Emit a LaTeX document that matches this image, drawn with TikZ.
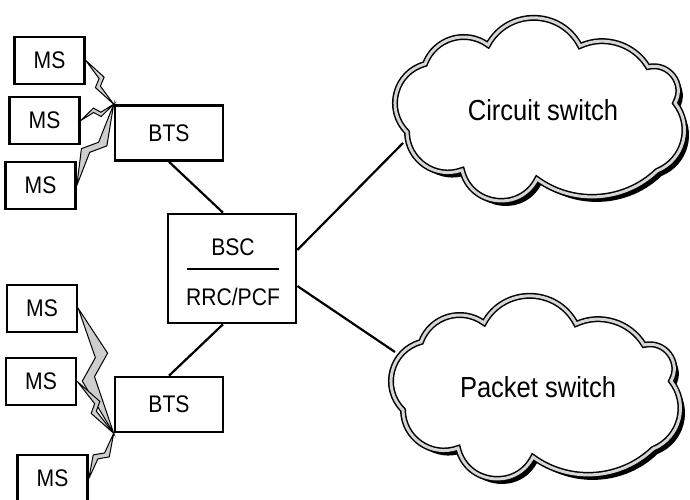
\documentclass[tikz,border=0pt]{standalone}
\usepackage{fontspec}
\setmainfont{Liberation Sans}[FakeStretch=0.88]
\usetikzlibrary{calc}
\definecolor{boltgray}{RGB}{206,206,206}
\definecolor{rimgray}{RGB}{214,214,214}

% radio link: lightning polygon from #1 (tail) to #2 (tip)
% #3 position of the jag (fraction of the axis), #4 width of the jag stroke along the axis,
% #5 slant of the jag stroke, #6 reach of the two barbs, #7 depth of the two notches
% unit vectors: za forward, zb backward, zn left, zs right of the axis
\newcommand\zap[7]{%
  \coordinate (za) at ($(#1)!1pt!(#2)$);
  \coordinate (zb) at ($(#1)!1pt!180:(#2)$);
  \coordinate (zn) at ($(#1)!1pt!90:(#2)$);
  \coordinate (zs) at ($(#1)!1pt!270:(#2)$);
  \pgfmathsetmacro\zBarb{#5*#6-#4/2}%
  \pgfmathsetmacro\zNotch{#4/2+#5*#7}%
  \filldraw[bolt] (#1)
   -- ($(#1)!#3!(#2) + {\zBarb}*(zb) - {\zBarb}*(#1) + {#6}*(zn) - {#6}*(#1)$)
   -- ($(#1)!#3!(#2) + {\zNotch}*(za) - {\zNotch}*(#1) + {#7}*(zs) - {#7}*(#1)$)
   -- (#2)
   -- ($(#1)!#3!(#2) + {\zBarb}*(za) - {\zBarb}*(#1) + {#6}*(zs) - {#6}*(#1)$)
   -- ($(#1)!#3!(#2) + {\zNotch}*(zb) - {\zNotch}*(#1) + {#7}*(zn) - {#7}*(#1)$)
   -- cycle;}

% puffy outline of a network cloud
\newcommand\cloudoutline{(425,-64)
  to[bend left=53,looseness=1.07] (488,-45)
  to[bend left=62,looseness=1.16] (580,-46)
  to[bend left=42,looseness=0.97] (648,-67)
  to[bend left=67,looseness=1.22] (675,-103)
  to[bend left=53,looseness=1.07] (657,-171)
  to[bend left=40,looseness=0.96] (537,-179)
  to[bend left=70,looseness=1.27] (462,-170)
  to[bend left=55,looseness=1.08] (407,-132)
  to[bend left=60,looseness=1.14] (425,-64) -- cycle}

\begin{document}
\begin{tikzpicture}[x=1pt,y=1pt,
  every node/.style={inner sep=0pt},
  unitbox/.style={draw, line width=2.6pt, fill=white, font=\fontsize{24}{28}\selectfont},
  ms/.style={unitbox, minimum width=70pt, minimum height=47pt},
  bts/.style={unitbox, minimum width=108pt, minimum height=55pt},
  boxlabel/.style={font=\fontsize{24}{28}\selectfont},
  link/.style={line width=2.2pt},
  bolt/.style={fill=boltgray, draw=black, line width=1pt, line join=miter},
  rim/.style={draw=black, line width=1.5pt, double=rimgray, double distance=3pt, fill=white},
  cloudshadow/.style={fill=black, shift={(4.5,-5)}},
  cloudtext/.style={font=\fontsize{29}{33}\selectfont}]

\useasboundingbox (0,0) rectangle (690,-500);

% mobile stations
\node[ms] (ms1) at (49.5,-60.5) {MS};
\node[ms] (ms2) at (44.5,-120.5) {MS};
\node[ms] (ms3) at (40.5,-185.5) {MS};
\node[ms] (ms4) at (42,-308.5) {MS};
\node[ms] (ms5) at (41,-381.5) {MS};
\node[ms] (ms6) at (52.5,-478.5) {MS};

% base stations and controller
\node[bts] (bts1) at (169,-133) {BTS};
\node[bts] (bts2) at (169,-404.5) {BTS};
\node[unitbox, minimum width=128pt, minimum height=109pt] (bsc) at (232,-268.5) {};
\node[boxlabel] (bscname) at (233,-247) {BSC};
\node[boxlabel] (bscfunc) at (233,-297) {RRC/PCF};
\draw[line width=2.4pt] ([shift={(-45,-0.5)}]bsc.center) -- ([shift={(47,-0.5)}]bsc.center);

% where the core links meet the clouds
\coordinate (csin) at (403,-143);
\coordinate (psin) at (395,-352);

% wired links
\draw[link] (bts1.south) -- ([xshift=-9]bsc.north);
\draw[link] (bts2.north) -- ([xshift=-9]bsc.south);
\draw[link] ([yshift=18.5]bsc.east) -- (csin);
\draw[link] ([yshift=-17.5]bsc.east) -- (psin);

% circuit-switched core
\fill[cloudshadow] \cloudoutline;
\path[rim] \cloudoutline;
\node[cloudtext] (cs) at (543,-110) {Circuit switch};

% packet-switched core
\begin{scope}[shift={(-4,-278)}]
  \fill[cloudshadow] \cloudoutline;
  \path[rim] \cloudoutline;
\end{scope}
\node[cloudtext] (ps) at (538,-387) {Packet switch};

% radio links
\zap{ms1.east}{bts1.north west}{0.5}{5}{0.7}{6.5}{1.5}
\zap{ms2.east}{bts1.north west}{0.5}{4.5}{0.7}{5.5}{1.5}
\zap{ms3.east}{bts1.north west}{0.47}{9}{1.0}{11}{2}
\zap{ms4.east}{bts2.south west}{0.47}{12}{1.0}{16}{3}
\zap{ms5.east}{bts2.south west}{0.5}{5}{0.7}{7}{1.5}
\zap{ms6.east}{bts2.south west}{0.5}{6}{0.8}{7.5}{1.5}

\end{tikzpicture}
\end{document}
